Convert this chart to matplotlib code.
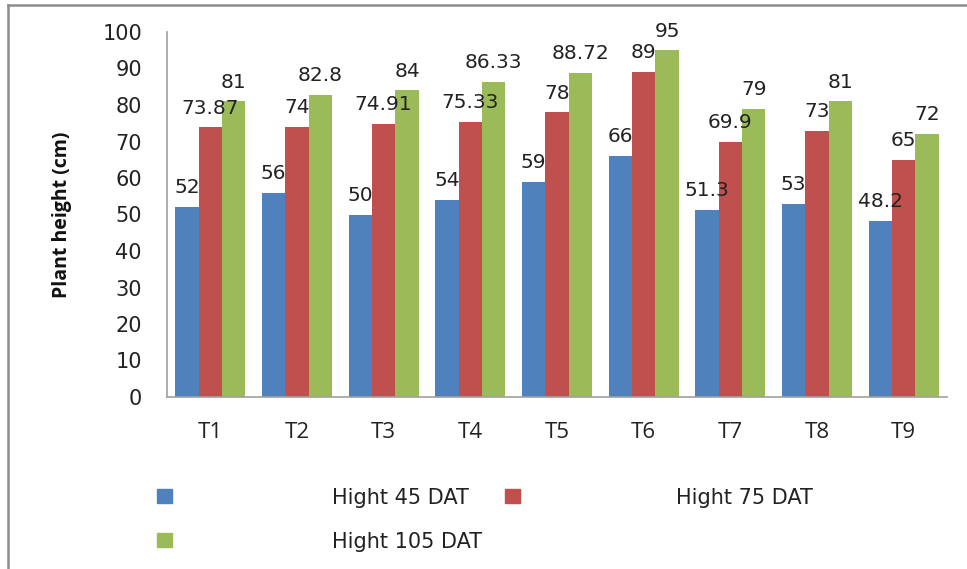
import numpy as np
import matplotlib.pyplot as plt
from matplotlib.patches import Rectangle
from matplotlib.lines import Line2D

treatments = ["T1", "T2", "T3", "T4", "T5", "T6", "T7", "T8", "T9"]
hight_45 = [52, 56, 50, 54, 59, 66, 51.3, 53, 48.2]
hight_75 = [73.87, 74, 74.91, 75.33, 78, 89, 69.9, 73, 65]
hight_105 = [81, 82.8, 84, 86.33, 88.72, 95, 79, 81, 72]
series_names = ["Hight 45 DAT", "Hight 75 DAT", "Hight 105 DAT"]
colors = ["#4F81BD", "#C0504D", "#9BBB59"]

W, H = 967, 569
fig = plt.figure(figsize=(W / 100, H / 100), dpi=100)
ax = fig.add_axes([167 / W, 1 - 397 / H, 780 / W, 365 / H])

x = np.arange(len(treatments))
bw = 0.27
label_font = dict(family=["DejaVu Sans"], size=14.5, color="#222222")
for i, (vals, c) in enumerate(zip([hight_45, hight_75, hight_105], colors)):
    pos = x + (i - 1) * bw
    bars = ax.bar(pos, vals, width=bw, color=c, edgecolor="none", zorder=2)
    for b, v in zip(bars, vals):
        ax.annotate(f"{v:g}", (b.get_x() + b.get_width() / 2, v),
                    xytext=(0, 7), textcoords="offset points",
                    ha="center", va="bottom", zorder=3, **label_font)

ax.set_xlim(-0.5, len(treatments) - 0.5)
ax.set_ylim(0, 100)
ax.set_yticks(range(0, 101, 10))
ax.set_xticks(x)
ax.set_xticklabels(treatments)
ax.tick_params(length=0, labelcolor="#222222")
ax.tick_params(axis="y", pad=18, labelsize=15)
ax.tick_params(axis="x", pad=18, labelsize=16)
for lab in ax.get_xticklabels():
    lab.set_family(["Open Sans", "DejaVu Sans"])
for lab in ax.get_yticklabels():
    lab.set_family(["DejaVu Sans"])

for side in ["top", "right"]:
    ax.spines[side].set_visible(False)
for side in ["left", "bottom"]:
    ax.spines[side].set_color("#A0A0A0")
    ax.spines[side].set_linewidth(1.2)

ax.set_ylabel("Plant height (cm)", fontsize=14, fontweight="bold",
              family=["Open Sans", "DejaVu Sans"], color="#111111")
ax.yaxis.set_label_coords(-0.1218, 0.5)

# legend drawn by hand: two rows, wide gap between swatch and text
legend_rows = [(157, 496, 332, 0), (505, 496, 676, 1), (157, 540, 332, 2)]
for sx, sy, tx, k in legend_rows:
    fig.add_artist(Rectangle((sx / W, 1 - (sy + 7) / H), 15 / W, 14 / H,
                             transform=fig.transFigure, color=colors[k]))
    fig.text(tx / W, 1 - (sy + 7.5) / H, series_names[k], ha="left",
             va="baseline", fontsize=15, family=["DejaVu Sans"], color="#222222")

# outer chart frame (top and left edges)
fig.add_artist(Line2D([8 / W, 8 / W], [0, 1 - 5 / H], transform=fig.transFigure,
                      color="#8C8C8C", linewidth=1.8))
fig.add_artist(Line2D([8 / W, 1], [1 - 5 / H, 1 - 5 / H], transform=fig.transFigure,
                      color="#8C8C8C", linewidth=1.8))

fig.savefig("out.png", dpi=100)
